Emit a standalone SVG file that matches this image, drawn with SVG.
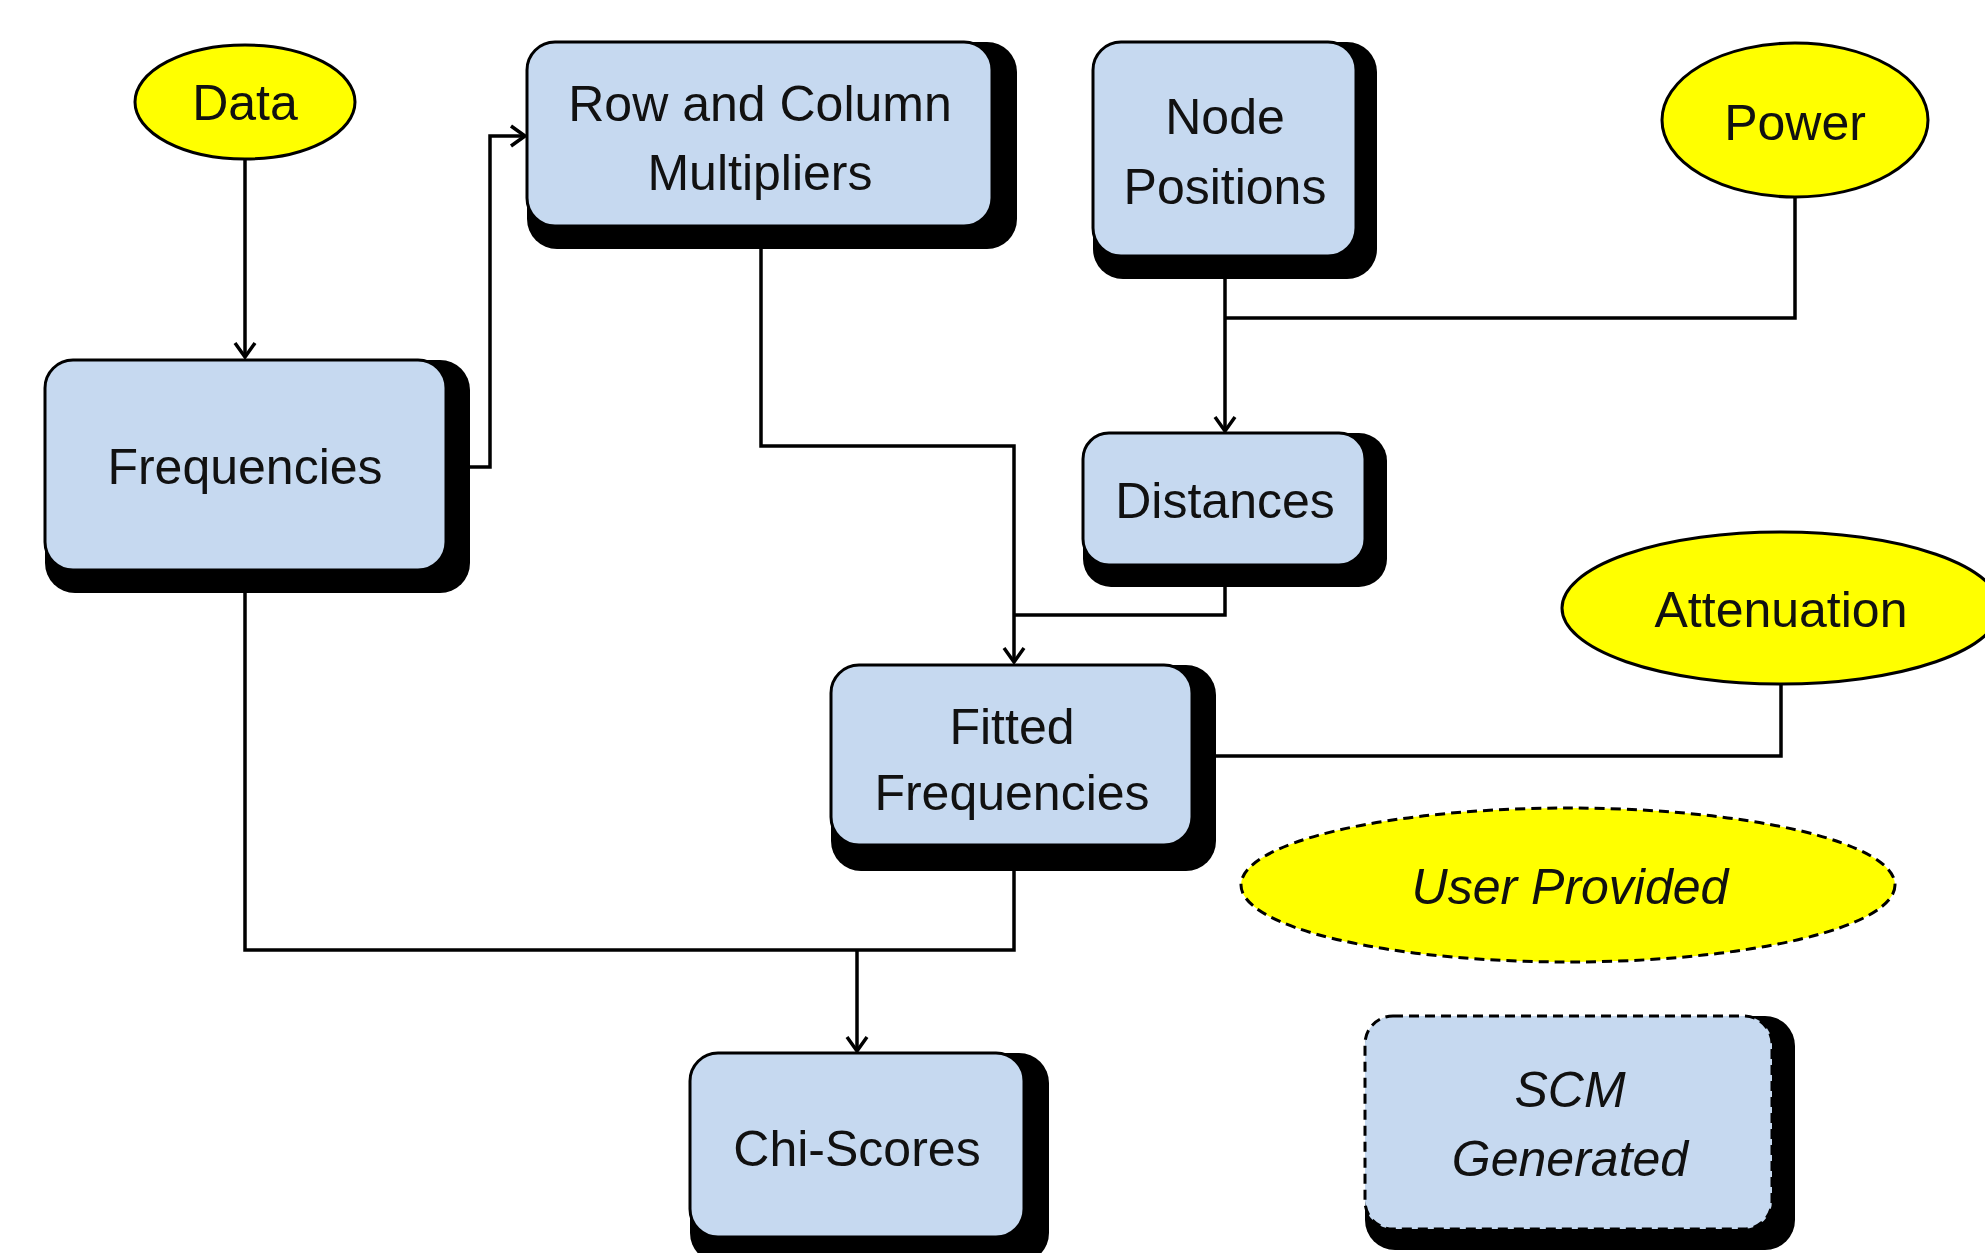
<svg xmlns="http://www.w3.org/2000/svg" width="1985" height="1253" viewBox="0 0 1985 1253">
<style>
.shadow{fill:#000}
.box{fill:#C6D9F0;stroke:#000;stroke-width:3}
.dashed{stroke-dasharray:10 6}
.ell{fill:#FFFF00;stroke:#000;stroke-width:3}
.conn{fill:none;stroke:#000;stroke-width:3.5}
text{font-family:"Liberation Sans",Arial,sans-serif;font-size:50px;fill:#111;text-anchor:middle}
.it{font-style:italic}
</style>
<defs>
<marker id="arr" viewBox="0 0 18 24" refX="16" refY="12" markerWidth="18" markerHeight="24" markerUnits="userSpaceOnUse" orient="auto">
<path d="M2,2 L16,12 L2,22" fill="none" stroke="#000" stroke-width="3.5"/>
</marker>
</defs>
<rect width="1985" height="1253" fill="#fff"/>
<g id="connectors">
<path class="conn" d="M245 160 V357" marker-end="url(#arr)"/>
<path class="conn" d="M446 467 H490 V136 H525" marker-end="url(#arr)"/>
<path class="conn" d="M761 226 V446 H1014 V662" marker-end="url(#arr)"/>
<path class="conn" d="M1225 256 V431" marker-end="url(#arr)"/>
<path class="conn" d="M1795 197 V318 H1225"/>
<path class="conn" d="M1225 565 V615 H1014"/>
<path class="conn" d="M1781 684 V756 H1192"/>
<path class="conn" d="M245 570 V950 H1014 V845"/>
<path class="conn" d="M857 950 V1051" marker-end="url(#arr)"/>
</g>
<g id="data">
<ellipse class="ell" cx="245" cy="102" rx="110" ry="57"/>
<text x="245" y="120">Data</text>
</g>
<g id="frequencies">
<rect class="shadow" x="45" y="360" width="425" height="233" rx="30"/>
<rect class="box" x="45" y="360" width="401" height="210" rx="28"/>
<text x="245" y="484">Frequencies</text>
</g>
<g id="row-col">
<rect class="shadow" x="527" y="42" width="490" height="207" rx="30"/>
<rect class="box" x="527" y="42" width="465" height="184" rx="28"/>
<text x="760" y="121">Row and Column</text>
<text x="760" y="190">Multipliers</text>
</g>
<g id="node-positions">
<rect class="shadow" x="1093" y="42" width="284" height="237" rx="30"/>
<rect class="box" x="1093" y="42" width="263" height="214" rx="28"/>
<text x="1225" y="134">Node</text>
<text x="1225" y="204">Positions</text>
</g>
<g id="power">
<ellipse class="ell" cx="1795" cy="120" rx="133" ry="77"/>
<text x="1795" y="140">Power</text>
</g>
<g id="distances">
<rect class="shadow" x="1083" y="433" width="304" height="154" rx="28"/>
<rect class="box" x="1083" y="433" width="282" height="132" rx="26"/>
<text x="1225" y="518">Distances</text>
</g>
<g id="attenuation">
<ellipse class="ell" cx="1781" cy="608" rx="219" ry="76"/>
<text x="1781" y="627">Attenuation</text>
</g>
<g id="fitted">
<rect class="shadow" x="831" y="665" width="385" height="206" rx="30"/>
<rect class="box" x="831" y="665" width="361" height="180" rx="28"/>
<text x="1012" y="744">Fitted</text>
<text x="1012" y="810">Frequencies</text>
</g>
<g id="chi-scores">
<rect class="shadow" x="690" y="1053" width="359" height="210" rx="30"/>
<rect class="box" x="690" y="1053" width="334" height="184" rx="28"/>
<text x="857" y="1166">Chi-Scores</text>
</g>
<g id="user-provided">
<ellipse class="ell dashed" cx="1568" cy="885" rx="327" ry="77"/>
<text class="it" x="1570" y="904">User Provided</text>
</g>
<g id="scm-generated">
<rect class="shadow" x="1365" y="1016" width="430" height="234" rx="30"/>
<rect class="box dashed" x="1365" y="1016" width="407" height="213" rx="28"/>
<text class="it" x="1570" y="1107">SCM</text>
<text class="it" x="1570" y="1176">Generated</text>
</g>
</svg>
